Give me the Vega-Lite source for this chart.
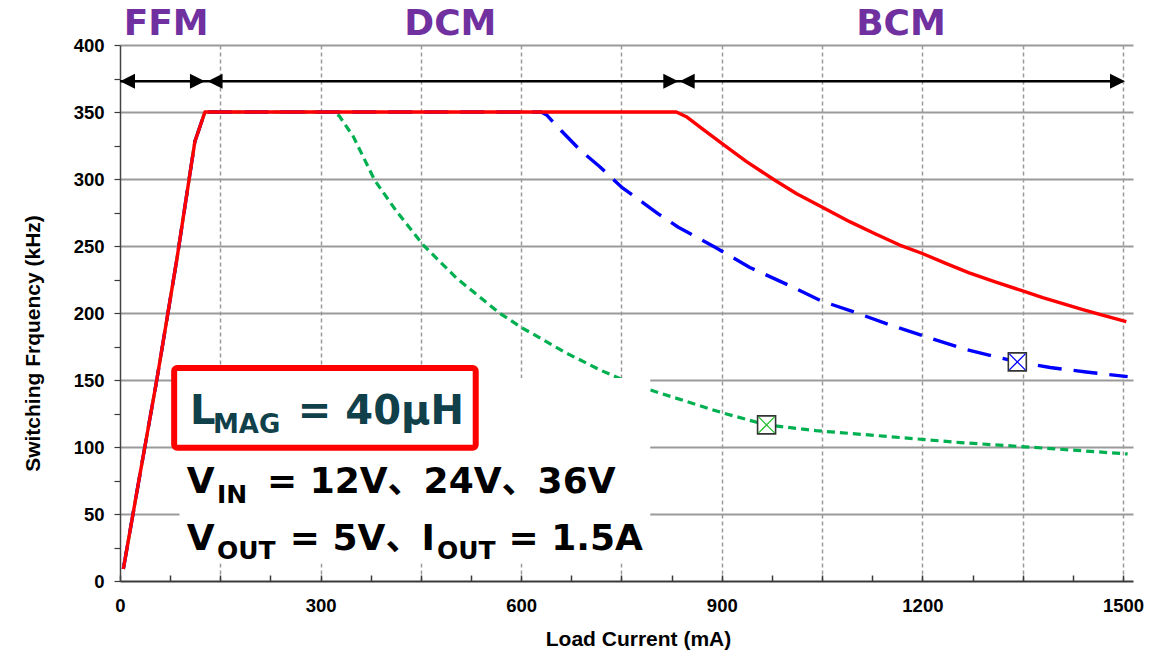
{
  "$schema": "https://vega.github.io/schema/vega-lite/v6.json",
  "width": 1013,
  "height": 536,
  "autosize": {"type": "none"},
  "padding": {"left": 120, "top": 45, "right": 32, "bottom": 75},
  "background": "white",
  "config": {"view": {"stroke": null}, "font": "Liberation Sans"},
  "datasets": {
    "curves": [
      {"series": "red", "x": 5, "y": 9}, {"series": "red", "x": 30, "y": 80}, {"series": "red", "x": 55, "y": 150}, {"series": "red", "x": 85, "y": 240}, {"series": "red", "x": 112, "y": 328}, {"series": "red", "x": 127, "y": 350}, {"series": "red", "x": 832, "y": 350}, {"series": "red", "x": 847, "y": 346.5}, {"series": "red", "x": 872, "y": 337}, {"series": "red", "x": 900, "y": 326.6}, {"series": "red", "x": 937, "y": 313}, {"series": "red", "x": 977, "y": 299.8}, {"series": "red", "x": 1012, "y": 289}, {"series": "red", "x": 1049, "y": 279.3}, {"series": "red", "x": 1092, "y": 268}, {"series": "red", "x": 1130, "y": 259}, {"series": "red", "x": 1166, "y": 250.7}, {"series": "red", "x": 1199, "y": 244.6}, {"series": "red", "x": 1235, "y": 237}, {"series": "red", "x": 1270, "y": 230}, {"series": "red", "x": 1310, "y": 223}, {"series": "red", "x": 1350, "y": 216.5}, {"series": "red", "x": 1380, "y": 211.5}, {"series": "red", "x": 1410, "y": 207}, {"series": "red", "x": 1440, "y": 202.5}, {"series": "red", "x": 1472, "y": 198}, {"series": "red", "x": 1505, "y": 193.5},
      {"series": "blue", "x": 5, "y": 9}, {"series": "blue", "x": 30, "y": 80}, {"series": "blue", "x": 55, "y": 150}, {"series": "blue", "x": 85, "y": 240}, {"series": "blue", "x": 112, "y": 328}, {"series": "blue", "x": 127, "y": 350}, {"series": "blue", "x": 630, "y": 350}, {"series": "blue", "x": 638, "y": 347.8}, {"series": "blue", "x": 660, "y": 336}, {"series": "blue", "x": 688, "y": 321.6}, {"series": "blue", "x": 718, "y": 309}, {"series": "blue", "x": 737, "y": 300}, {"series": "blue", "x": 750, "y": 294}, {"series": "blue", "x": 783, "y": 282}, {"series": "blue", "x": 805, "y": 274}, {"series": "blue", "x": 835, "y": 264}, {"series": "blue", "x": 890, "y": 249}, {"series": "blue", "x": 942, "y": 234}, {"series": "blue", "x": 999, "y": 221}, {"series": "blue", "x": 1049, "y": 209}, {"series": "blue", "x": 1102, "y": 200}, {"series": "blue", "x": 1149, "y": 191.5}, {"series": "blue", "x": 1213, "y": 181}, {"series": "blue", "x": 1267, "y": 172.5}, {"series": "blue", "x": 1342, "y": 163.5}, {"series": "blue", "x": 1391, "y": 159.3}, {"series": "blue", "x": 1445, "y": 156}, {"series": "blue", "x": 1507, "y": 152.5},
      {"series": "green", "x": 5, "y": 9}, {"series": "green", "x": 30, "y": 80}, {"series": "green", "x": 55, "y": 150}, {"series": "green", "x": 85, "y": 240}, {"series": "green", "x": 112, "y": 328}, {"series": "green", "x": 127, "y": 350}, {"series": "green", "x": 320, "y": 350}, {"series": "green", "x": 328, "y": 347}, {"series": "green", "x": 349, "y": 331.6}, {"series": "green", "x": 381, "y": 299}, {"series": "green", "x": 414, "y": 275.6}, {"series": "green", "x": 453.6, "y": 250.7}, {"series": "green", "x": 503.5, "y": 225.9}, {"series": "green", "x": 568, "y": 199.8}, {"series": "green", "x": 600, "y": 189.3}, {"series": "green", "x": 668, "y": 170}, {"series": "green", "x": 718, "y": 157.5}, {"series": "green", "x": 750, "y": 150.5}, {"series": "green", "x": 793, "y": 142.6}, {"series": "green", "x": 847, "y": 134}, {"series": "green", "x": 901, "y": 125.5}, {"series": "green", "x": 967, "y": 116.5}, {"series": "green", "x": 1041, "y": 112.2}, {"series": "green", "x": 1149, "y": 107.8}, {"series": "green", "x": 1257, "y": 103.3}, {"series": "green", "x": 1364, "y": 99.8}, {"series": "green", "x": 1507, "y": 94.8}
    ],
    "markers": [
      {"series": "blue", "x": 1342, "y": 163.5},
      {"series": "green", "x": 967, "y": 116.5}
    ],
    "arrow": [{"x": 0, "x2": 1500, "y": 373}],
    "heads": [
      {"x": 0, "y": 373, "dir": "L"}, {"x": 127, "y": 373, "dir": "R"},
      {"x": 131, "y": 373, "dir": "L"}, {"x": 835, "y": 373, "dir": "R"},
      {"x": 837, "y": 373, "dir": "L"}, {"x": 1503, "y": 373, "dir": "R"}
    ],
    "modes": [
      {"x": 69, "y": 407.5, "text": "FFM"},
      {"x": 494, "y": 407.5, "text": "DCM"},
      {"x": 1168, "y": 407.5, "text": "BCM"}
    ],
    "whitebox": [{"x": 89, "x2": 793, "y": 13, "y2": 151.5}],
    "redbox": [{"x": 81, "x2": 532, "y": 99.5, "y2": 159}],
    "tealBig": [
      {"x": 104.7, "y": 117.2, "text": "L"},
      {"x": 266, "y": 117.2, "text": "= 40μH"}
    ],
    "tealSmall": [
      {"x": 139, "y": 110.7, "text": "MAG"}
    ],
    "blackBig": [
      {"x": 99.7, "y": 65.4, "text": "V"},
      {"x": 219.8, "y": 65.4, "text": "= 12V、24V、36V"},
      {"x": 99.7, "y": 23.1, "text": "V"},
      {"x": 254, "y": 23.1, "text": "= 5V、I"},
      {"x": 581, "y": 23.1, "text": "= 1.5A"}
    ],
    "blackSmall": [
      {"x": 145, "y": 58.4, "text": "IN"},
      {"x": 145, "y": 16.4, "text": "OUT"},
      {"x": 474, "y": 16.4, "text": "OUT"}
    ]
  },
  "encoding": {
    "x": {
      "field": "x", "type": "quantitative",
      "scale": {"domain": [0, 1515], "nice": false, "zero": false},
      "axis": {
        "values": [0, 75, 150, 225, 300, 375, 450, 525, 600, 675, 750, 825, 900, 975, 1050, 1125, 1200, 1275, 1350, 1425, 1500],
        "labelExpr": "datum.value % 300 === 0 ? format(datum.value, 'd') : ''",
        "grid": true,
        "gridColor": "#9a9a9a", "gridWidth": 1.5, "gridDash": [4, 3],
        "gridOpacity": {"condition": {"test": "datum.value % 150 === 0 && datum.value > 0", "value": 1}, "value": 0},
        "domainColor": "#3a3a3a", "domainWidth": 2,
        "tickColor": "#3a3a3a", "tickWidth": 1.5, "tickSize": -6,
        "labelFont": "Liberation Sans", "labelFontWeight": "bold", "labelFontSize": 18.5, "labelColor": "black", "labelPadding": 21, "labelFlush": false,
        "title": "Load Current (mA)", "titleFont": "Liberation Sans", "titleFontSize": 21, "titleFontWeight": "bold", "titleColor": "black",
        "titleX": 518, "titleY": 64, "titleAlign": "center", "titleBaseline": "alphabetic"
      }
    },
    "y": {
      "field": "y", "type": "quantitative",
      "scale": {"domain": [0, 400], "nice": false},
      "axis": {
        "values": [0, 25, 50, 75, 100, 125, 150, 175, 200, 225, 250, 275, 300, 325, 350, 375, 400],
        "labelExpr": "datum.value % 50 === 0 ? datum.label : ''",
        "grid": true,
        "gridColor": "#9a9a9a", "gridWidth": 1.8,
        "gridOpacity": {"condition": {"test": "datum.value % 50 === 0 && datum.value > 0", "value": 1}, "value": 0},
        "domainColor": "#444444", "domainWidth": 1.5,
        "tickColor": "#3a3a3a", "tickWidth": 1.2, "tickSize": 6,
        "labelFont": "Liberation Sans", "labelFontWeight": "bold", "labelFontSize": 18.5, "labelColor": "black", "labelPadding": 10, "labelFlush": false,
        "title": "Switching Frquency (kHz)", "titleFont": "Liberation Sans", "titleFontSize": 21, "titleFontWeight": "bold", "titleColor": "black",
        "titleAngle": 270, "titleX": -87, "titleY": 298, "titleAlign": "center", "titleBaseline": "middle"
      }
    }
  },
  "layer": [
    {
      "data": {"name": "curves"},
      "transform": [{"filter": "datum.series === 'green'"}],
      "mark": {"type": "line", "color": "#00B050", "strokeWidth": 3.2, "strokeDash": [8, 5], "interpolate": "linear", "strokeJoin": "round"}
    },
    {
      "data": {"name": "whitebox"},
      "mark": {"type": "rect", "fill": "white"},
      "encoding": {"x2": {"field": "x2"}, "y2": {"field": "y2"}}
    },
    {
      "data": {"name": "curves"},
      "transform": [{"filter": "datum.series === 'blue'"}],
      "mark": {"type": "line", "color": "#0000FF", "strokeWidth": 3.4, "strokeDash": [24, 12], "interpolate": "linear", "strokeJoin": "round"}
    },
    {
      "data": {"name": "curves"},
      "transform": [{"filter": "datum.series === 'red'"}],
      "mark": {"type": "line", "color": "#FF0000", "strokeWidth": 3.4, "interpolate": "linear", "strokeJoin": "round"}
    },
    {
      "data": {"name": "redbox"},
      "mark": {"type": "rect", "fill": "white", "stroke": "#FF0000", "strokeWidth": 6, "cornerRadius": 3},
      "encoding": {"x2": {"field": "x2"}, "y2": {"field": "y2"}}
    },
    {
      "data": {"name": "tealBig"},
      "mark": {"type": "text", "font": "DejaVu Sans", "fontWeight": "bold", "fontSize": 40, "color": "#10404A", "align": "left", "baseline": "alphabetic"},
      "encoding": {"text": {"field": "text"}}
    },
    {
      "data": {"name": "tealSmall"},
      "mark": {"type": "text", "font": "DejaVu Sans", "fontWeight": "bold", "fontSize": 26, "color": "#10404A", "align": "left", "baseline": "alphabetic"},
      "encoding": {"text": {"field": "text"}}
    },
    {
      "data": {"name": "blackBig"},
      "mark": {"type": "text", "font": "DejaVu Sans, Noto Sans CJK JP", "fontWeight": "bold", "fontSize": 36, "color": "black", "align": "left", "baseline": "alphabetic"},
      "encoding": {"text": {"field": "text"}}
    },
    {
      "data": {"name": "blackSmall"},
      "mark": {"type": "text", "font": "DejaVu Sans", "fontWeight": "bold", "fontSize": 25, "color": "black", "align": "left", "baseline": "alphabetic"},
      "encoding": {"text": {"field": "text"}}
    },
    {
      "data": {"name": "arrow"},
      "mark": {"type": "rule", "color": "black", "strokeWidth": 2.6},
      "encoding": {"x2": {"field": "x2"}}
    },
    {
      "data": {"name": "heads"},
      "mark": {"type": "point", "filled": true, "color": "black", "opacity": 1, "size": 900, "strokeWidth": 0},
      "encoding": {
        "shape": {"field": "dir", "type": "nominal", "legend": null,
          "scale": {"domain": ["L", "R"], "range": ["M0,0L1,-0.5L1,0.5Z", "M0,0L-1,-0.5L-1,0.5Z"]}}
      }
    },
    {
      "data": {"name": "modes"},
      "mark": {"type": "text", "font": "DejaVu Sans", "fontWeight": "bold", "fontSize": 36, "color": "#7030A0", "align": "center", "baseline": "alphabetic"},
      "encoding": {"text": {"field": "text"}}
    },
    {
      "data": {"name": "markers"},
      "mark": {"type": "point", "shape": "square", "size": 324, "filled": true, "fill": "white", "stroke": "#333333", "strokeWidth": 1.6, "opacity": 1}
    },
    {
      "data": {"name": "markers"},
      "mark": {"type": "point", "shape": "M-1,-1L1,1M1,-1L-1,1", "size": 256, "filled": false, "strokeWidth": 1.3, "opacity": 1},
      "encoding": {
        "color": {"field": "series", "type": "nominal", "legend": null,
          "scale": {"domain": ["blue", "green"], "range": ["#0000FF", "#22C02A"]}}
      }
    }
  ]
}
